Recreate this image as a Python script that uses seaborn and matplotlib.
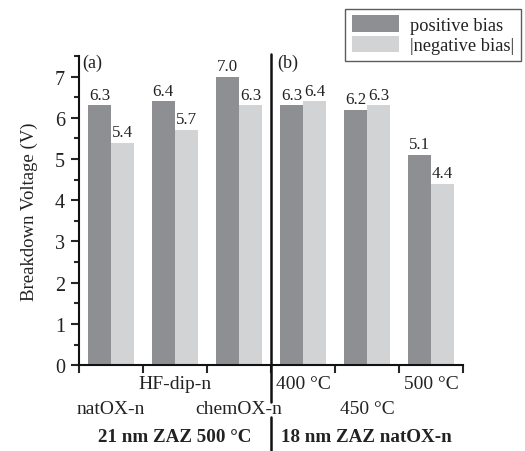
import matplotlib
matplotlib.use("Agg")
import matplotlib.pyplot as plt
import seaborn as sns
import pandas as pd
from matplotlib.lines import Line2D

categories = ["natOX-n", "HF-dip-n", "chemOX-n", "400 °C", "450 °C", "500 °C"]
positive_bias = [6.3, 6.4, 7.0, 6.3, 6.2, 5.1]
negative_bias = [5.4, 5.7, 6.3, 6.4, 6.3, 4.4]
series_names = ["positive bias", "|negative bias|"]
group_labels = ["21 nm ZAZ 500 °C", "18 nm ZAZ natOX-n"]
panel_labels = ["(a)", "(b)"]

df = pd.DataFrame({
    "cat": categories * 2,
    "val": positive_bias + negative_bias,
    "series": [series_names[0]] * len(categories) + [series_names[1]] * len(categories),
})

sns.set_style("ticks")
plt.rcParams["font.family"] = ["Liberation Serif", "DejaVu Serif"]

fig = plt.figure(figsize=(5.25, 4.52), dpi=100)
ax = fig.add_axes([0.1505, 0.190, 0.7315, 0.684])

sns.barplot(data=df, x="cat", y="val", hue="series", order=categories,
            hue_order=series_names, palette=["#8e8f93", "#d2d3d5"],
            width=0.73, linewidth=0, saturation=1, ax=ax, errorbar=None)

for cont in ax.containers:
    ax.bar_label(cont, fmt="%.1f", padding=2, fontsize=12.2, color="#222222")

ax.set_xlim(-0.5, 5.5)
ax.set_ylim(0, 7.5)
ax.set_yticks(range(0, 8))
ax.set_yticks([i + 0.5 for i in range(0, 8)], minor=True)
ax.tick_params(axis="y", which="major", direction="out", length=6, width=1.5,
               labelsize=14.5, pad=4, labelcolor="#222222")
ax.tick_params(axis="y", which="minor", direction="out", length=3.5, width=1.5)

# x: major ticks at group boundaries, labels on minor ticks at centers
ax.set_xticks([i - 0.5 for i in range(0, 7)])
ax.set_xticklabels([])
ax.set_xticks(range(len(categories)), minor=True)
ax.set_xticklabels(categories, minor=True, fontsize=14, color="#222222")
ax.tick_params(axis="x", which="major", direction="out", length=6, width=1.5)
ax.tick_params(axis="x", which="minor", length=0)
pads = [25, 7, 25, 7, 25, 7]
for t, p in zip(ax.xaxis.get_minor_ticks(), pads):
    t.set_pad(p)

ax.set_xlabel("")
ax.set_ylabel("Breakdown Voltage (V)", fontsize=13.5, labelpad=12, color="#222222")

for side in ["top", "right"]:
    ax.spines[side].set_visible(False)
for side in ["left", "bottom"]:
    ax.spines[side].set_linewidth(1.5)
    ax.spines[side].set_color("#111111")

# panel labels
ax.text(-0.45, 7.35, panel_labels[0], fontsize=13, va="center", ha="left", color="#222222")
ax.text(2.6, 7.35, panel_labels[1], fontsize=13, va="center", ha="left", color="#222222")

# group labels
fig.text((79 + 270) / 2 / 525, 1 - 438 / 452, group_labels[0], fontsize=13.7,
         fontweight="bold", ha="center", va="center", color="#222222")
fig.text((270 + 463) / 2 / 525, 1 - 438 / 452, group_labels[1], fontsize=13.7,
         fontweight="bold", ha="center", va="center", color="#222222")

# separator line (with a gap behind chemOX-n label)
xline = ax.transData.transform((2.5, 0))[0] / fig.bbox.width
fig.add_artist(Line2D([xline, xline], [1 - 55 / 452, 1 - 403 / 452], color="#111111", lw=1.8))
fig.add_artist(Line2D([xline, xline], [1 - 418 / 452, 0], color="#111111", lw=1.8))

leg = ax.legend(title=None, loc="upper right", bbox_to_anchor=(521 / 525, 1 - 10 / 452),
                bbox_transform=fig.transFigure, fontsize=13.2, frameon=True, fancybox=False,
                handlelength=2.6, handleheight=1.0, borderpad=0.35, labelspacing=0.1,
                handletextpad=0.6, borderaxespad=0)
leg.get_frame().set_edgecolor("#333333")
leg.get_frame().set_linewidth(1.0)
for txt in leg.get_texts():
    txt.set_color("#222222")

fig.savefig("out.png", dpi=100)
